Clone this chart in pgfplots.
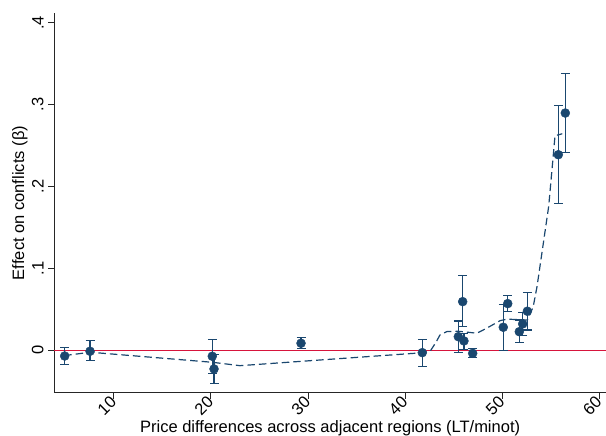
\documentclass[border=0pt]{standalone}
\usepackage{pgfplots}
\pgfplotsset{compat=1.18}
\usepackage{pgfplotstable}
\usepackage{fontspec}
\setmainfont{Liberation Sans}
\definecolor{snavy}{RGB}{26,71,111}
\definecolor{sred}{RGB}{215,20,60}

\pgfplotstableread{
x y ep em
4.95 -0.0070 0.0103 0.0106
7.56 -0.0012 0.0129 0.0118
20.15 -0.0073 0.0207 0.0207
20.33 -0.0228 0.0180 0.0180
29.29 0.0086 0.0069 0.0065
41.78 -0.0029 0.0163 0.0167
45.49 0.0166 0.0192 0.0195
45.94 0.0594 0.0318 0.0305
46.07 0.0114 0.0096 0.0104
46.97 -0.0037 0.0057 0.0053
50.12 0.0281 0.0273 0.0281
50.58 0.0570 0.0094 0.0098
51.77 0.0227 0.0143 0.0134
52.12 0.0322 0.0140 0.0140
52.60 0.0477 0.0232 0.0229
55.79 0.2388 0.0602 0.0599
56.51 0.2897 0.0481 0.0481
}\pts

\pgfplotstableread{
x y
4.9 -0.0065
7.6 -0.0024
20.2 -0.0147
23.0 -0.0188
41.8 -0.0030
42.6 -0.0010
43.2 0.0100
43.6 0.0187
44.3 0.0228
45.5 0.0232
46.5 0.0220
47.4 0.0208
48.4 0.0269
49.8 0.0362
50.5 0.0380
52.6 0.0370
53.2 0.0530
53.6 0.0780
54.8 0.1760
55.45 0.2620
56.2 0.2644
}\fit

\begin{document}
\begin{tikzpicture}
\fontsize{16.5}{19}\selectfont
\begin{axis}[
  scale only axis,
  width=551.7pt, height=379.4pt,
  xmin=3.88, xmax=60.7,
  ymin=-0.0518, ymax=0.4115,
  axis x line=bottom, axis y line=left,
  axis line style={-, line width=0.8pt, black!85},
  tick align=outside,
  major tick length=6pt,
  tick style={line width=0.8pt, black!85},
  xtick={10,20,30,40,50,60},
  ytick={0,0.1,0.2,0.3,0.4},
  yticklabels={0,.1,.2,.3,.4},
  /pgf/number format/assume math mode=true,
  ticklabel style={font=\fontsize{16.5}{19}\selectfont},
  yticklabel style={rotate=90, anchor=south, inner sep=4.5pt},
  xticklabel style={rotate=45, anchor=east, inner sep=0.5pt},
  xlabel={Price differences across adjacent regions (LT/minot)},
  ylabel={Effect on conflicts (β)},
  label style={font=\fontsize{16.5}{19}\selectfont, inner sep=0pt},
  xlabel style={at={(axis description cs:0.5,-0.1062)}, anchor=base},
  ylabel style={at={(axis description cs:-0.0549,0.5)}, anchor=base},
  clip=false,
]
\coordinate (bl) at (rel axis cs:0,0);
\coordinate (tr) at (rel axis cs:1,1);
\addplot[sred, line width=1pt] coordinates {(3.88,0) (60.7,0)};
\addplot[snavy, line width=1.2pt, dash pattern=on 7.5pt off 4pt] table[x=x,y=y] {\fit};
\addplot[snavy, only marks, mark=*, mark size=4.5pt,
  error bars/.cd, y dir=both, y explicit,
  error bar style={line width=1.1pt, snavy},
  error mark options={line width=1.1pt, mark size=4.5pt, snavy, rotate=90}]
  table[x=x, y=y, y error plus=ep, y error minus=em] {\pts};
\end{axis}
\pgfresetboundingbox
\path[use as bounding box] ([shift={(-54.3pt,-43.3pt)}]bl) rectangle ([shift={(0pt,13.3pt)}]tr);
\end{tikzpicture}
\end{document}
